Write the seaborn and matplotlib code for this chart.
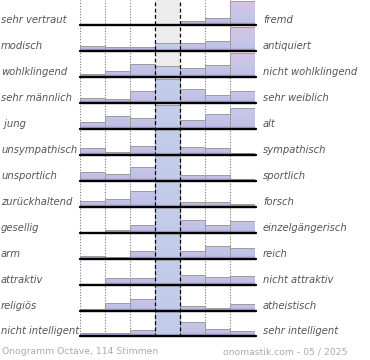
# Onogramm "Octave": semantic differential, one small bar row per word pair
import numpy as np
import pandas as pd
import matplotlib
matplotlib.use("Agg")
import matplotlib.pyplot as plt
import seaborn as sns
from matplotlib.colors import LinearSegmentedColormap

# word pairs (left / right)
left_labels = ["sehr vertraut", "modisch", "wohlklingend", "sehr männlich", " jung",
               "unsympathisch", "unsportlich", "zurückhaltend", "gesellig", "arm",
               "attraktiv", "religiös", "nicht intelligent"]
right_labels = ["fremd", "antiquiert", "nicht wohlklingend", "sehr weiblich", "alt",
                "sympathisch", "sportlich", "forsch", "einzelgängerisch", "reich",
                "nicht attraktiv", "atheistisch", "sehr intelligent"]

# relative bar heights per pair, 7 steps (max of a row = 24.5)
values = [
    [0, 0, 0, 1.5, 4, 7, 24.5],
    [5, 4, 4, 8, 8, 10, 24.5],
    [3, 6, 13, 11, 9, 12, 24.5],
    [5, 4, 12, 24.5, 14, 8, 12],
    [7, 13, 11, 24.5, 9, 15, 21],
    [7, 3, 9, 24.5, 8, 7, 1.5],
    [9, 7, 14, 24.5, 6, 6, 1.5],
    [6, 8, 16, 24.5, 5, 5, 3],
    [1, 3, 8, 24.5, 13, 8, 12],
    [3, 2, 8, 24.5, 8, 13, 11],
    [0, 7, 7, 24.5, 10, 8, 8.5],
    [2, 8, 12, 24.5, 5, 3, 7],
    [3, 3, 6, 24.5, 14, 7, 5],
]
steps = [1, 2, 3, 4, 5, 6, 7]

footer_left = "Onogramm Octave, 114 Stimmen"
footer_right = "onomastik.com - 05 / 2025"

W, H = 370, 360
X0, X1 = 80, 255
ROW_H = 25.93
BASE0 = 25.3
ROW_TOP = ROW_H

sns.set_style("white")
plt.rcParams["font.family"] = ["DejaVu Sans"]

fig = plt.figure(figsize=(W / 100, H / 100), dpi=100)
fig.patch.set_facecolor("white")


def fx(px):
    return px / W


def fy(py):
    return 1 - py / H


def gradient_cmap(stops):
    return LinearSegmentedColormap.from_list(
        "g", [(p / ROW_TOP, c) for p, c in stops])


cm_normal = gradient_cmap([(0, "#a79ace"), (3.5, "#c1c1e6"), (ROW_TOP, "#c8cbeb")])
cm_peak = gradient_cmap([(0, "#a79ace"), (3.5, "#c2c2e7"), (11, "#c6c6e9"), (ROW_TOP, "#dec1e2")])
cm_center = gradient_cmap([(0, "#b0addb"), (3, "#c3cbeb"), (ROW_TOP, "#c5cdec")])
grad = np.linspace(0, 1, 200).reshape(-1, 1)

bottom_px = BASE0 + ROW_H * 12 + 1

# background: grey centre band and dotted separators
bg = fig.add_axes([fx(X0), fy(bottom_px), fx(X1 - X0), (bottom_px) / H])
bg.set_xlim(-0.5, 6.5)
bg.set_ylim(0, 1)
bg.axvspan(2.5, 3.5, color="#ececec", lw=0)
for xv in [-0.5, 0.5, 1.5, 4.5, 5.5]:
    bg.axvline(xv, color="#7a7a7a", lw=0.8, ls=(0, (1, 1.5)))
bg.axis("off")

for i in range(len(values)):
    base = BASE0 + ROW_H * i
    ax = fig.add_axes([fx(X0), fy(base), fx(X1 - X0), ROW_H / H])
    ax.patch.set_alpha(0)
    df = pd.DataFrame({"step": steps, "value": values[i]})
    sns.barplot(data=df, x="step", y="value", width=1, color="#c5c7e9",
                edgecolor="#9c9c9c", linewidth=0.7, ax=ax, zorder=2)
    side = [v if k != 3 else -1 for k, v in enumerate(values[i])]
    peak = int(np.argmax(side)) if max(side) >= 24 else -1
    for k, patch in enumerate(ax.patches):
        if k == 3:
            cm = cm_center
        elif k == peak:
            cm = cm_peak
        else:
            cm = cm_normal
        x0 = patch.get_x()
        im = ax.imshow(grad, cmap=cm, origin="lower", aspect="auto",
                       extent=[x0, x0 + patch.get_width(), 0, ROW_TOP],
                       zorder=2.5, interpolation="bilinear")
        im.set_clip_path(patch)
        patch.set_facecolor("none")
        patch.set_zorder(2.6)
    ax.axhline(0, color="black", lw=1.7, zorder=4, xmin=0, xmax=1.005, clip_on=False)
    ax.set_xlim(-0.5, 6.5)
    ax.set_ylim(0, ROW_TOP)
    ax.axis("off")

    fig.text(fx(1), fy(base - 5), left_labels[i], ha="left", va="center",
             fontsize=7.2, style="italic", color="#555555")
    fig.text(fx(263), fy(base - 5), right_labels[i], ha="left", va="center",
             fontsize=7.2, style="italic", color="#555555")

# dashed lines of the neutral column, drawn on top
fg = fig.add_axes([fx(X0), fy(bottom_px), fx(X1 - X0), (bottom_px) / H])
fg.patch.set_alpha(0)
fg.set_xlim(-0.5, 6.5)
fg.set_ylim(0, 1)
for xv in [2.5, 3.5]:
    fg.axvline(xv, color="black", lw=0.9, ls=(0, (3, 2)))
fg.axis("off")

fig.text(fx(2), fy(352), footer_left, ha="left", va="center",
         fontsize=6.7, color="#aaaaaa")
fig.text(fx(347), fy(352), footer_right, ha="right", va="center",
         fontsize=6.7, color="#aaaaaa")

plt.savefig("out.png", dpi=100)
